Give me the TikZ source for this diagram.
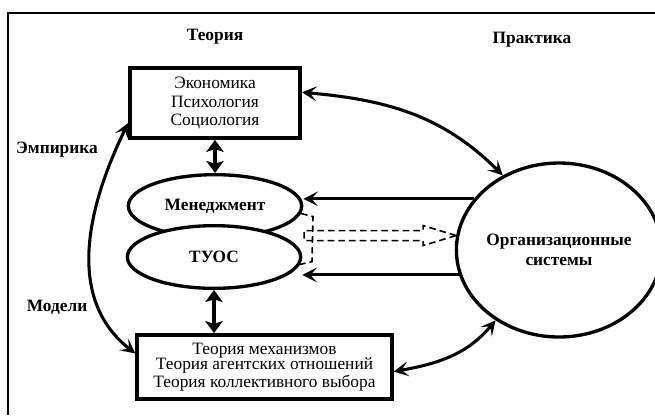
\documentclass[tikz,border=0pt]{standalone}
\usepackage{fontspec}
\setmainfont{Liberation Serif}
\usetikzlibrary{arrows.meta,shapes.geometric,calc}

\begin{document}
\begin{tikzpicture}[x=0.75pt, y=0.75pt, line width=2.3pt,
    font=\fontsize{13}{14}\selectfont,
    box/.style={draw, rectangle, line width=2.8pt, align=center, fill=white},
    oval/.style={draw, ellipse, fill=white, inner sep=0pt, line width=2.5pt,
        minimum width=130pt, minimum height=47pt, font=\bfseries\fontsize{13}{14}\selectfont},
    heading/.style={font=\bfseries\fontsize{13}{15}\selectfont},
    link/.style={{Stealth[length=11pt,width=11pt,inset=5pt]}-{Stealth[length=11pt,width=11pt,inset=5pt]}},
    solid link/.style={{Stealth[length=9pt,width=13pt,inset=2pt]}-{Stealth[length=9pt,width=13pt,inset=2pt]}, line width=2.6pt},
    back/.style={-{Stealth[length=11pt,width=11pt,inset=5pt]}},
    gap/.style={dash pattern=on 5pt off 3pt, line width=1.2pt}]
\useasboundingbox (0,0) rectangle (655,-415);
\draw[line width=1.8pt] (655,-13) -- (8,-13) -- (8,-415);

\foreach \n/\p/\t in {theory/{215,-37}/Теория, practice/{532,-40}/Практика,
    empiric/{57,-150}/Эмпирика, models/{57,-307}/Модели}
{
    \node[heading] (\n) at (\p) {\t};
}

\node[box, minimum width=127.5pt, minimum height=52.5pt] (sci) at (215,-103)
    {Экономика\\Психология\\Социология};
\node[oval] (mgmt) at (215,-206) {Менеджмент};
\node[oval] (tuos) at (214,-257) {ТУОС};
\node[box, minimum width=191pt, minimum height=48pt, font=\fontsize{13}{11.8}\selectfont] (mech) at (264.5,-367)
    {Теория механизмов\\Теория агентских отношений\\Теория коллективного выбора};
\node[draw, ellipse, line width=2.5pt, inner sep=0pt, minimum width=139.5pt, minimum height=130.5pt,
    align=center, heading] (org) at (559,-250) {Организационные\\системы};

\draw[solid link] (sci) -- (mgmt);
\draw[solid link] (tuos.south) -- (tuos.south |- mech.north);

\draw[back] (org.149) -- (mgmt.east |- org.149);
\draw[back] (org.194) -- (tuos.east |- org.194);

\draw[gap] (mgmt.-5) -- ++(12,-3) -- ($(tuos.-5)+(12,3)$) -- (tuos.-5);
\draw[gap] (org.172) -- ++(-33,10) -- ++(0,-5) -- ++(-119,0) -- ++(0,-10)
    -- ++(119,0) -- ++(0,-5) -- cycle;

\draw[link] (sci.7) to[out=-5, in=135] (org.127);
\draw[link] (mech.-2) to[out=10, in=230] (org.228);
\draw[link] (mech.174) to[out=142, in=244] (sci.-167);
\end{tikzpicture}
\end{document}
